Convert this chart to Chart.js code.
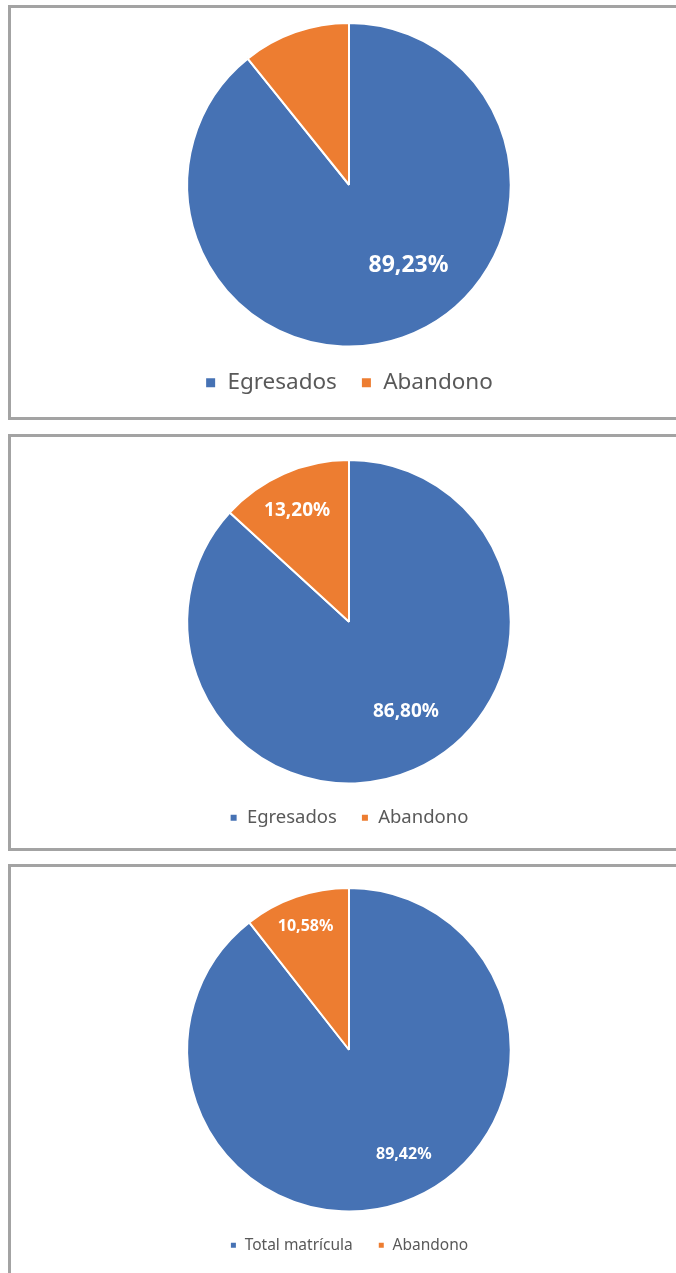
<!DOCTYPE html>
<html>
<head>
<meta charset="utf-8">
<script src="https://cdn.jsdelivr.net/npm/chart.js@4/dist/chart.umd.min.js"></script>
<style>
  html, body { margin: 0; padding: 0; background: #fff; width: 676px; height: 1273px; overflow: hidden; position: relative; }
  .box { position: absolute; left: 8px; width: 676px; border: 3px solid #a3a3a3; background: #fff; }
  .box canvas { display: block; }
</style>
</head>
<body>
<div class="box" id="b1" style="top:5px;height:409px;"><canvas id="c1"></canvas></div>
<div class="box" id="b2" style="top:434px;height:411px;"><canvas id="c2"></canvas></div>
<div class="box" id="b3" style="top:864px;height:409px;"><canvas id="c3"></canvas></div>
<script>
// ---- Data ----
const labels1 = ["Egresados", "Abandono"];
const values1 = [89.23, 10.77];
const showLabel1 = [true, false];

const labels2 = ["Egresados", "Abandono"];
const values2 = [86.80, 13.20];
const showLabel2 = [true, true];

const labels3 = ["Total matrícula", "Abandono"];
const values3 = [89.42, 10.58];
const showLabel3 = [true, true];

const colors = ["#4672B4", "#ED7D31"];

// ---- Inline data-label plugin ----
const pieLabels = {
  id: 'pieLabels',
  afterDatasetsDraw(chart, args, opts) {
    const ctx = chart.ctx;
    const ds = chart.data.datasets[0];
    const meta = chart.getDatasetMeta(0);
    meta.data.forEach((arc, i) => {
      if (!opts.show[i]) return;
      const p = arc.getProps(['x', 'y', 'startAngle', 'endAngle', 'outerRadius'], true);
      const mid = (p.startAngle + p.endAngle) / 2 + (opts.shift[i] * Math.PI / 180);
      const r = p.outerRadius * opts.factor[i];
      const x = p.x + Math.cos(mid) * r;
      const y = p.y + Math.sin(mid) * r;
      ctx.save();
      ctx.font = 'bold ' + opts.size + 'px "Noto Sans", sans-serif';
      ctx.fillStyle = '#ffffff';
      ctx.textAlign = 'center';
      ctx.textBaseline = 'middle';
      ctx.fillText(ds.data[i].toFixed(2).replace('.', ',') + '%', x, y);
      ctx.restore();
    });
  }
};

function makePie(id, h, labels, values, show, cfg) {
  const canvas = document.getElementById(id);
  canvas.style.width = '676px';
  canvas.style.height = h + 'px';
  canvas.width = 676; canvas.height = h;
  new Chart(canvas, {
    type: 'pie',
    data: {
      labels: labels,
      datasets: [{
        data: values,
        backgroundColor: colors,
        borderColor: '#ffffff',
        borderWidth: 2
      }]
    },
    plugins: [pieLabels],
    options: {
      responsive: false,
      animation: false,
      layout: { padding: { top: cfg.padTop, bottom: cfg.padBottom, left: 0, right: 0 } },
      plugins: {
        tooltip: { enabled: false },
        legend: {
          position: 'bottom',
          labels: {
            color: '#595959',
            font: { family: '"Noto Sans", sans-serif', size: cfg.legendSize },
            boxWidth: cfg.box,
            boxHeight: cfg.box,
            padding: cfg.legendPad
          }
        },
        pieLabels: {
          show: show,
          size: cfg.labelSize,
          shift: cfg.shift,
          factor: cfg.factor
        }
      }
    }
  });
}

makePie('c1', 409, labels1, values1, showLabel1,
  { padTop: 14, padBottom: 13, legendSize: 22.5, box: 11, legendPad: 24, labelSize: 23, shift: [-17, 0], factor: [0.62, 0.7] });
makePie('c2', 411, labels2, values2, showLabel2,
  { padTop: 22, padBottom: 11, legendSize: 18.5, box: 8, legendPad: 24, labelSize: 19, shift: [-8.5, -1.2], factor: [0.66, 0.76] });
makePie('c3', 409, labels3, values3, showLabel3,
  { padTop: 20, padBottom: 13, legendSize: 15.5, box: 7, legendPad: 25, labelSize: 16, shift: [-8.6, -0.3], factor: [0.73, 0.81] });
</script>
</body>
</html>
